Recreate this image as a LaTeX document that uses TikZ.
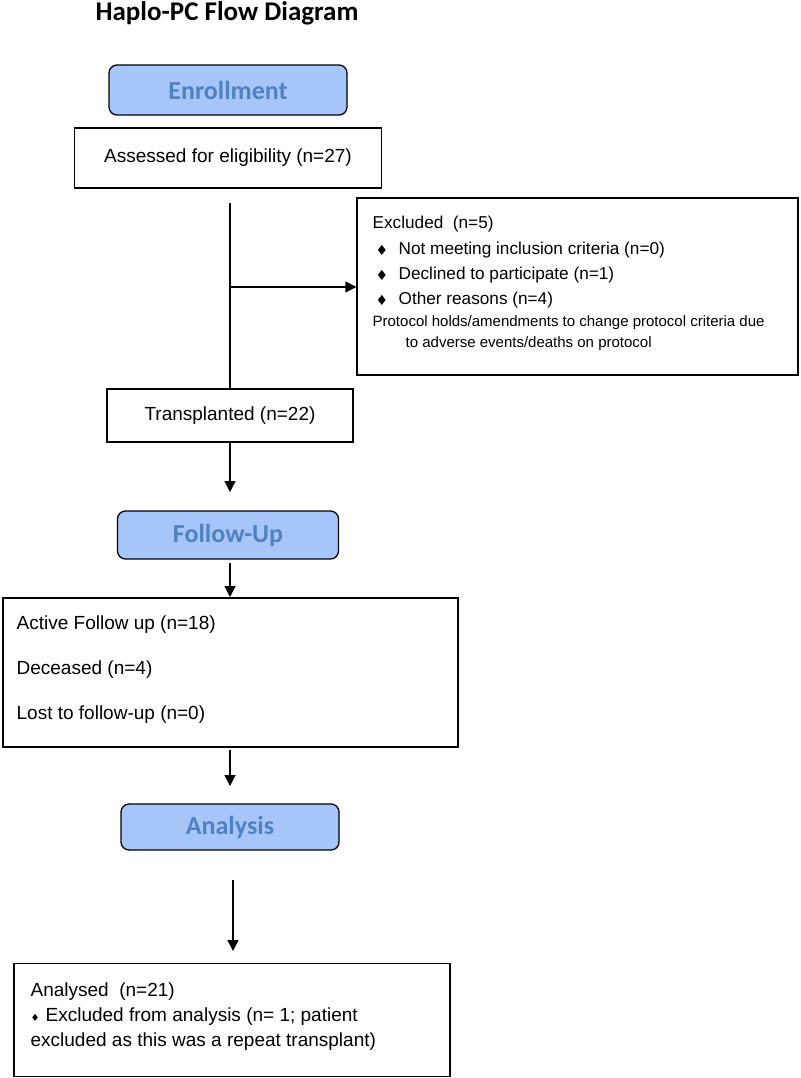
\documentclass[tikz,border=0pt]{standalone}
\usepackage{fontspec}
\setmainfont{Liberation Sans}
\newfontfamily\headfont{Carlito}
\newfontfamily\symfont{DejaVu Sans}
\usepackage{xcolor}
\usetikzlibrary{arrows.meta,positioning}
\definecolor{stagefill}{RGB}{166,197,248}
\definecolor{stagetext}{RGB}{80,130,195}
\tikzset{>={Triangle[length=11pt,width=11pt]}}
\tikzset{
	stage/.style={draw, line width=1.3pt, rounded corners=8pt, fill=stagefill,
			text=stagetext, inner sep=0pt,
			font=\headfont\bfseries\fontsize{26}{31}\selectfont},
	box/.style={draw, line width=1.3pt, inner sep=0pt,
			font=\fontsize{19}{23}\selectfont},
	txt/.style={anchor=west, inner sep=0pt, font=\fontsize{19}{23}\selectfont},
	item/.style={anchor=west, inner sep=0pt, font=\fontsize{17.2}{21}\selectfont},
	note/.style={anchor=west, inner sep=0pt, font=\fontsize{15}{18}\selectfont},
	bul/.style={inner sep=0pt, font=\symfont\fontsize{#1}{#1}\selectfont}
}

\begin{document}
\begin{tikzpicture}[x=1pt, y=-1pt, line width=1.3pt]
		\useasboundingbox (0,0) rectangle (800,1078);
		\node[inner sep=0pt, font=\headfont\bfseries\fontsize{27}{32}\selectfont] (title) at (227,13) {Haplo-PC Flow Diagram};

		% enrollment
		\node[stage, minimum width=238pt, minimum height=50pt] (enrol) at (228,90) {Enrollment};
		\node[box, minimum width=307pt, minimum height=60pt] (assess) at (228,158) {Assessed for eligibility (n=27)};
		\node[box, minimum width=441pt, minimum height=177pt] (excl) at (577.5,286.5) {};
		\node[txt, font=\fontsize{17.2}{21}\selectfont] (exhead) at (372,224) {Excluded\ \ (n=5)};
		\foreach \y/\t [count=\i] in {250/Not meeting inclusion criteria (n=0),
				275/Declined to participate (n=1),
				300/Other reasons (n=4)} {
				\node[bul=14] (exbul\i) at (382,\y) {♦};
				\node[item] (exitem\i) at (398,\y) {\t};
			}
		\node[note] (prot1) at (372,323) {Protocol holds/amendments to change protocol criteria due};
		\node[note] (prot2) at (405,344) {to adverse events/deaths on protocol};

		\node[box, minimum width=246pt, minimum height=53pt] (trans) at (230,415.5) {Transplanted (n=22)};
		\coordinate (splittop) at (230,203);
		\coordinate (branch) at (230,287);
		\draw (splittop) -- (trans.north);
		\draw[->] (branch) -- (branch -| excl.west);

		% follow-up
		\node[stage, minimum width=221pt, minimum height=48pt] (follow) at (228,535) {Follow-Up};
		\coordinate (tipF) at (230,492);
		\draw[->] (trans.south) -- (tipF);
		\node[box, line width=2pt, minimum width=455pt, minimum height=149pt] (active) at (230,672.5) {};
		\node[txt] (act1) at (16,625) {Active Follow up (n=18)};
		\node[txt] (act2) at (16,670) {Deceased (n=4)};
		\node[txt] (act3) at (16,715) {Lost to follow-up (n=0)};
		\coordinate (startA) at (230,563);
		\draw[->] (startA) -- (active.north);

		% analysis
		\node[stage, minimum width=218pt, minimum height=46pt] (anal) at (230,827) {Analysis};
		\coordinate (startN) at (230,750);
		\coordinate (tipN) at (230,786);
		\draw[->] (startN) -- (tipN);
		\node[box, minimum width=436pt, minimum height=113pt] (final) at (232,1020) {};
		\node[txt] (fin1) at (30,992) {Analysed\ \ (n=21)};
		\node[bul=10] (finbul) at (35,1018) {♦};
		\node[txt] (fin2) at (45,1017) {Excluded from analysis (n= 1; patient};
		\node[txt] (fin3) at (30,1042) {excluded as this was a repeat transplant)};
		\coordinate (startR) at (233,880);
		\coordinate (tipR) at (233,951);
		\draw[->] (startR) -- (tipR);
	\end{tikzpicture}
\end{document}
